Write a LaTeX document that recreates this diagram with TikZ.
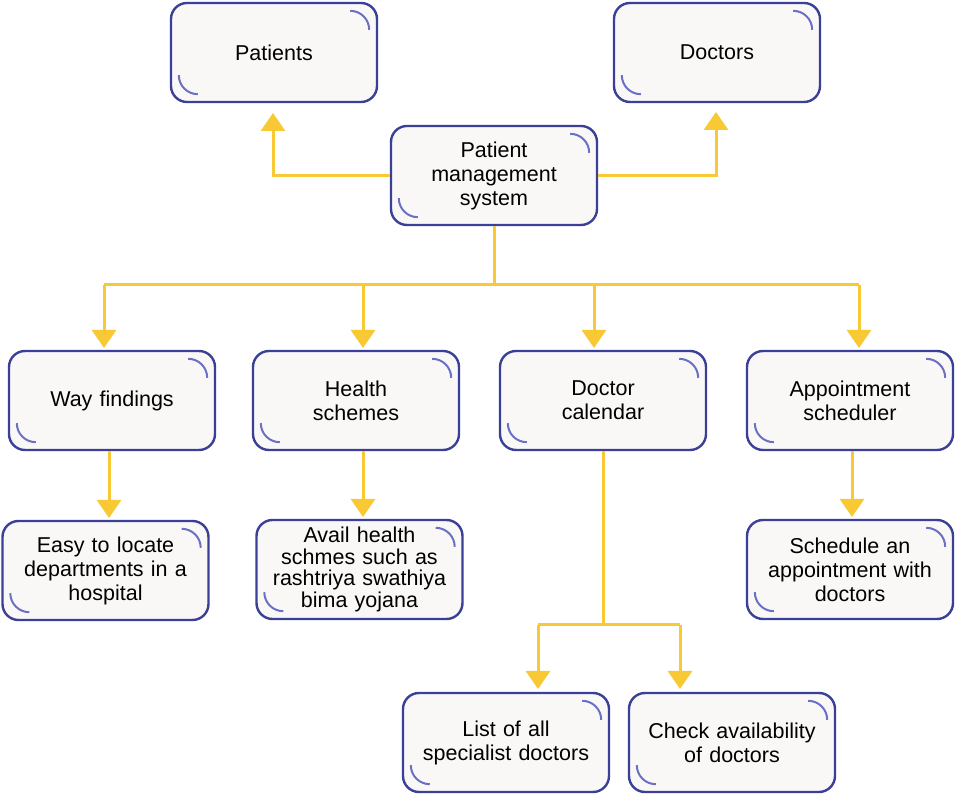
\documentclass[tikz,border=0pt]{standalone}
\usepackage{fontspec}
\setmainfont{Liberation Sans}
\usetikzlibrary{arrows.meta}
\definecolor{bordc}{HTML}{3A3F98}
\definecolor{arcc}{HTML}{6A70C4}
\definecolor{fillc}{HTML}{FAF8F7}
\definecolor{arrc}{HTML}{F8C935}
\tikzset{
  box/.style={draw=bordc, line width=2.4pt, fill=fillc, rounded corners=16pt,
    minimum width=206pt, minimum height=99pt, text width=200pt, align=center,
    font=\fontsize{21.5}{24}\selectfont, inner sep=0pt},
  arr/.style={draw=arrc, line width=3pt, -{Triangle[width=24pt,length=18pt]}},
  ln/.style={draw=arrc, line width=3pt},
  deco/.style={draw=arcc, line width=2pt},
}
\newcommand{\decoarcs}[1]{%
  \draw[deco] ([xshift=-28pt,yshift=-9pt]#1.north east) arc (90:0:19pt);
  \draw[deco] ([xshift=9pt,yshift=28pt]#1.south west) arc (180:270:19pt);
}
\begin{document}
\begin{tikzpicture}[x=1pt,y=1pt]
\useasboundingbox (0,0) rectangle (956,795);
\node[box] (pat) at (274,742.5) {Patients};
\node[box] (doc) at (717,742.5) {Doctors};
\node[box] (pms) at (494,619.5) {Patient\\management\\system};
\node[box] (way) at (112,394.5) {Way findings};
\node[box] (hs) at (356,394.5) {Health\\schemes};
\node[box] (dc) at (603,394.5) {Doctor\\calendar};
\node[box] (ap) at (850,394.5) {Appointment\\scheduler};
\node[box] (easy) at (105.5,224.5) {Easy to locate\\departments in a\\hospital};
\node[box, font=\fontsize{21.5}{21.5}\selectfont] (avail) at (359.5,225.5) {Avail health\\schmes such as\\rashtriya swathiya\\bima yojana};
\node[box] (sch) at (850,225.5) {Schedule an\\appointment with\\doctors};
\node[box] (list) at (506,52.5) {List of all\\specialist doctors};
\node[box] (chk) at (732,52.5) {Check availability\\of doctors};
\foreach \n in {pat,doc,pms,way,hs,dc,ap,easy,avail,sch,list,chk} {\decoarcs{\n}}

% top connectors
\coordinate (patT) at (273,682);
\coordinate (docT) at (716,683);
\draw[arr] (pms.west) -| (patT);
\draw[arr] (pms.east) -| (docT);

% bus
\coordinate (bus) at (494,510);
\coordinate (b1) at (104,510);
\coordinate (b2) at (363,510);
\coordinate (b3) at (594,510);
\coordinate (b4) at (859,510);
\draw[ln] (pms.south) -- (bus);
\draw[ln] (b1) -- (b4);
\draw[arr] (b1) -- (104,447);
\draw[arr] (b2) -- (363,447);
\draw[arr] (b3) -- (594,447);
\draw[arr] (b4) -- (859,447);

% second level
\draw[arr] (109,344) -- (109,277);
\draw[arr] (363,344) -- (363,278);
\draw[arr] (852,344) -- (852,278);

% doctor calendar
\coordinate (dj) at (603,170);
\draw[ln] (dc.south) -- (dj);
\draw[ln] (538,170) -- (680,170);
\draw[arr] (538,170) -- (538,106);
\draw[arr] (680,170) -- (680,106);
\end{tikzpicture}
\end{document}
